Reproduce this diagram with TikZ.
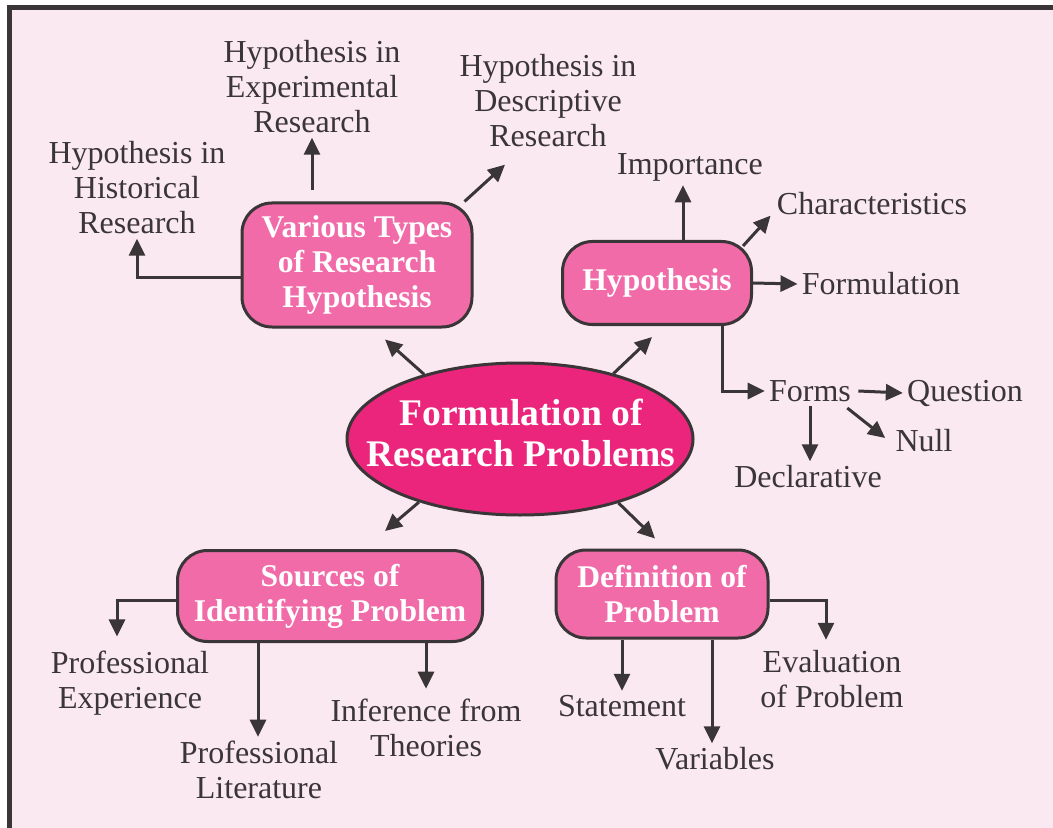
\documentclass[tikz,border=0pt]{standalone}
\usepackage{fontspec}
\setmainfont{Liberation Serif}
\usetikzlibrary{positioning,arrows.meta,calc,shapes.geometric}
\definecolor{figbg}{HTML}{FBE9F2}
\definecolor{figline}{HTML}{3A3536}
\definecolor{figpink}{HTML}{F06BA8}
\definecolor{figmag}{HTML}{EC257C}
\tikzset{
  txt/.style={text=figline,align=center,inner sep=2pt,
              font=\fontsize{16}{17.5}\selectfont},
  box/.style={draw=figline,line width=1.5pt,fill=figpink,rounded corners=15pt,
              align=center,text=white,inner sep=2pt,
              font=\fontsize{15.8}{17.5}\selectfont\bfseries},
  ln/.style={-{Triangle[length=8.5pt,width=8pt]},line width=1.5pt,figline},
}
\begin{document}
\begin{tikzpicture}[x=0.5pt,y=-0.5pt,
  mainell/.style={ellipse,draw=figline,line width=1.5pt,fill=figmag,inner sep=0pt,
                  minimum width=173pt,minimum height=76pt},
  maintxt/.style={text=white,align=center,inner sep=0pt,
                  font=\fontsize{18.8}{20.5}\selectfont\bfseries}]

\fill[white] (0,0) rectangle (1053,828);
\useasboundingbox (0,0) rectangle (1053,828);
\fill[figbg] (9,8) rectangle (1053,828);
\draw[figline,line width=2.5pt] (9,828) -- (9,8) -- (1053,8);

% centre and the four branches
\node[mainell] (frp) at (520,439) {};
\node[maintxt] (frptxt) at (521,433) {Formulation of\\Research Problems};

\node[box,minimum width=115pt,minimum height=62pt] (vt) at (357,265)
     {Various Types\\of Research\\Hypothesis};
\node[box,minimum width=94.5pt,minimum height=41.5pt] (hyp) at (657,283) {Hypothesis};
\node[box,minimum width=152.5pt,minimum height=45.5pt] (src) at (330,596)
     {Sources of\\Identifying Problem};
\node[box,minimum width=106pt,minimum height=44pt] (def) at (662,594)
     {Definition of\\Problem};

\draw[ln] (frp.146) -- ($(vt.south)+(28,11)$);
\draw[ln] (frp.35) -- ($(hyp.south)+(-5,11)$);
\draw[ln] (frp.212) -- ($(src.north)+(55,-18)$);
\draw[ln] (frp.327) -- ($(def.north)+(-7,-10)$);

% types of hypothesis
\node[txt] (hist) at (137,188) {Hypothesis in\\Historical\\Research};
\node[txt] (expt) at (312,87) {Hypothesis in\\Experimental\\Research};
\node[txt] (desc) at (548,101) {Hypothesis in\\Descriptive\\Research};

\draw[ln] ($(vt.west)+(0,13)$) -| (hist.south);
\draw[ln] ($(vt.north)+(-45,-11)$) -- (expt.south);
\draw[ln] ($(vt.north east)+(-9,0)$) -- ($(desc.south)+(-43,13)$);

% hypothesis
\node[txt] (imp) at (690,167) {Importance};
\node[txt] (char) at (872,204) {Characteristics};
\node[txt] (formu) at (881,284) {Formulation};
\node[txt] (forms) at (810,391) {Forms};
\node[txt] (ques) at (965,393) {Question};
\node[txt] (null) at (924,441) {Null};
\node[txt] (decl) at (808,477) {Declarative};

\draw[ln] ($(hyp.north)+(26,0)$) coordinate (hypup) -- (hypup |- imp.south);
\draw[ln] ($(hyp.north east)+(-10,6)$) -- ($(char.south west)+(-2,-4)$);
\draw[ln] (hyp.east) -- (formu.west);
\draw[ln] ($(hyp.south)+(65,0)$) |- (forms.west);
\draw[ln] ($(forms.east)+(3,0)$) -- (ques.west);
\draw[ln] ($(forms.south east)+(-8,2)$) -- ($(null.west)+(-6,-3)$);
\draw[ln] (forms.south) -- (forms.south |- decl.north);

% sources
\node[txt] (pexp) at (130,683) {Professional\\Experience};
\node[txt] (plit) at (259,770) {Professional\\Literature};
\node[txt] (inf) at (426,728) {Inference from\\Theories};

\draw[ln] ($(src.west)+(0,4)$) -| ($(pexp.north)+(-13,-10)$);
\draw[ln] ($(src.south)+(-72,0)$) coordinate (srcl) -- (srcl |- plit.north);
\draw[ln] ($(src.south)+(96,0)$) coordinate (srcr) -- ($(srcr |- inf.north)+(0,-6)$);

% definition
\node[txt] (stat) at (622,706) {Statement};
\node[txt] (vars) at (715,759) {Variables};
\node[txt] (eval) at (832,679) {Evaluation\\of Problem};

\draw[ln] ($(def.south)+(-40,0)$) coordinate (defl) -- (defl |- stat.north);
\draw[ln] ($(def.south)+(50,0)$) coordinate (defr) -- (defr |- vars.north);
\draw[ln] ($(def.east)+(0,6)$) -| ($(eval.north)+(-6,-6)$);

\end{tikzpicture}
\end{document}
